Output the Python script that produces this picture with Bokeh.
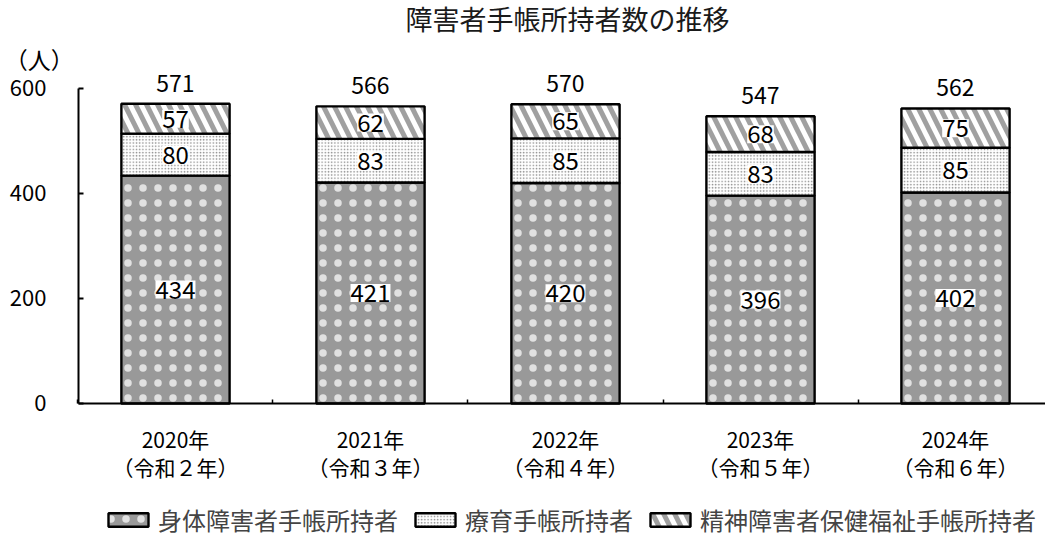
from bokeh.plotting import figure
from bokeh.models import (ColumnDataSource, FixedTicker, LabelSet, Label, Legend,
                          LegendItem, Range1d, LinearAxis)
from bokeh.core.properties import value
from bokeh.embed import file_html
from bokeh.resources import INLINE

FONT = "Noto Sans CJK JP"

# ---- data ----
year_labels = ["2020年\n（令和２年）", "2021年\n（令和３年）", "2022年\n（令和４年）",
               "2023年\n（令和５年）", "2024年\n（令和６年）"]
physical = [434, 421, 420, 396, 402]
ryoiku = [80, 83, 85, 83, 85]
mental = [57, 62, 65, 68, 75]
totals = [571, 566, 570, 547, 562]
series_names = ["身体障害者手帳所持者", "療育手帳所持者", "精神障害者保健福祉手帳所持者"]
y_ticks = [0, 200, 400, 600]
title_text = "障害者手帳所持者数の推移"
unit_text = "（人）"

x = list(range(len(year_labels)))
b1 = [0] * len(x)
t1 = physical
b2 = t1
t2 = [a + b for a, b in zip(t1, ryoiku)]
b3 = t2
t3 = [a + b for a, b in zip(t2, mental)]

src = ColumnDataSource(dict(
    x=x, b1=b1, t1=t1, b2=b2, t2=t2, b3=b3, t3=t3,
    m1=[(a + b) / 2 for a, b in zip(b1, t1)],
    m2=[(a + b) / 2 for a, b in zip(b2, t2)],
    m3=[(a + b) / 2 for a, b in zip(b3, t3)],
    l1=[str(v) for v in physical], l2=[str(v) for v in ryoiku], l3=[str(v) for v in mental],
    tot=totals, ltot=[str(v) for v in totals],
))

# frame covers the whole canvas; axes are pinned with fixed_location
X0, X1 = -0.8974, 4.4615
Y0, Y1 = -264.8, 767.6
YAXIS_X = -0.4974

p = figure(width=1045, height=542, output_backend="svg", toolbar_location=None,
           x_range=Range1d(X0, X1), y_range=Range1d(Y0, Y1),
           x_axis_location=None, y_axis_location=None,
           min_border=0, min_border_left=0, min_border_right=0,
           min_border_top=0, min_border_bottom=0)
p.outline_line_color = None
p.grid.visible = False
p.background_fill_color = "white"
p.border_fill_color = "white"

W = 0.555
r1 = p.vbar(x="x", bottom="b1", top="t1", width=W, source=src, fill_color="#999999",
            line_color="black", line_width=2.4, hatch_pattern="dot", hatch_color="white",
            hatch_alpha=0.7, hatch_scale=15, hatch_weight=0.5)
r2 = p.vbar(x="x", bottom="b2", top="t2", width=W, source=src, fill_color="white",
            line_color="black", line_width=2.4, hatch_pattern="dot", hatch_color="#8c8c8c",
            hatch_scale=3.2, hatch_weight=0.8)
r3 = p.vbar(x="x", bottom="b3", top="t3", width=W, source=src, fill_color="white",
            line_color="black", line_width=2.4, hatch_pattern="left_diagonal_line",
            hatch_color="#a0a0a0", hatch_scale=22, hatch_weight=5)

for ycol, tcol in (("m1", "l1"), ("m2", "l2"), ("m3", "l3")):
    p.add_layout(LabelSet(x="x", y=ycol, text=tcol, source=src, text_align="center",
                          text_baseline="middle", text_font=value(FONT),
                          text_font_size=value("24px"), text_color="black",
                          background_fill_color="white"))
p.add_layout(LabelSet(x="x", y="tot", text="ltot", source=src, text_align="center",
                      text_baseline="bottom", y_offset=12, text_font=value(FONT),
                      text_font_size=value("23px"), text_color="black"))

# y axis
yax = LinearAxis(fixed_location=YAXIS_X, bounds=(0, 600), ticker=FixedTicker(ticks=y_ticks))
yax.axis_line_width = 2
yax.axis_line_color = "black"
yax.major_tick_in = 5
yax.major_tick_out = 0
yax.major_tick_line_width = 2
yax.minor_tick_line_color = None
yax.major_label_standoff = 32
yax.major_label_text_font = FONT
yax.major_label_text_font_size = "22px"
yax.major_label_text_color = "black"
p.add_layout(yax, "left")

# x axis
xax = LinearAxis(fixed_location=0, bounds=(YAXIS_X, X1),
                 ticker=FixedTicker(ticks=x, minor_ticks=[i - 0.5 for i in range(len(x) + 1)]))
xax.major_label_overrides = {i: lab for i, lab in zip(x, year_labels)}
xax.axis_line_width = 2
xax.axis_line_color = "black"
xax.major_tick_line_color = None
xax.minor_tick_in = 4
xax.minor_tick_out = 0
xax.minor_tick_line_width = 1.5
xax.minor_tick_line_color = "black"
xax.major_label_standoff = 15
xax.major_label_text_font = FONT
xax.major_label_text_font_size = "21px"
xax.major_label_text_color = "black"
xax.major_label_text_line_height = 0.93
p.add_layout(xax, "below")

# title and unit
p.add_layout(Label(x=2.01, y=733, text=title_text, text_align="center", text_baseline="middle",
                   text_font=FONT, text_font_size="27px", text_color="#1a1a1a"))
p.add_layout(Label(x=-0.875, y=657, text=unit_text, text_align="left", text_baseline="middle",
                   text_font=FONT, text_font_size="23px", text_color="black"))

legend = Legend(items=[LegendItem(label=series_names[0], renderers=[r1]),
                       LegendItem(label=series_names[1], renderers=[r2]),
                       LegendItem(label=series_names[2], renderers=[r3])],
                orientation="horizontal", location=(103, 5),
                glyph_width=50, glyph_height=17, label_standoff=5, spacing=12,
                label_text_font=FONT, label_text_font_size="24px",
                border_line_color=None, background_fill_alpha=0, margin=0, padding=0)
p.add_layout(legend)

open("out.html", "w").write(file_html(p, INLINE))
